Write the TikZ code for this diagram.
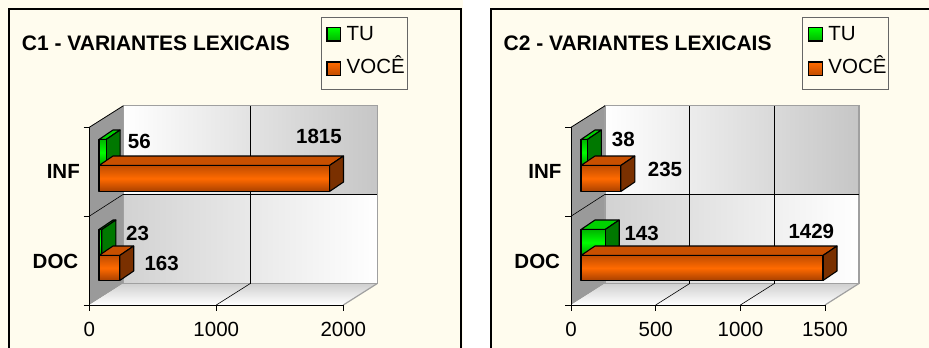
\documentclass[tikz,border=0pt]{standalone}
\usepackage{fontspec}
\setmainfont{Liberation Sans}
\definecolor{cream}{HTML}{FFFCEE}
\definecolor{sidegray}{HTML}{9A9A9A}
\definecolor{wallline}{HTML}{A0A0A0}
\definecolor{wallg}{HTML}{C6C6C6}
\definecolor{wallh}{HTML}{D2D2D2}
\definecolor{floorg}{HTML}{D0D0D0}
\definecolor{gA}{HTML}{00B400}
\definecolor{gB}{HTML}{009A00}
\definecolor{gC}{HTML}{00FF00}
\definecolor{gtop}{HTML}{00D200}
\definecolor{gside}{HTML}{007800}
\definecolor{oA}{HTML}{C04C00}
\definecolor{oB}{HTML}{A84000}
\definecolor{oC}{HTML}{FF6A00}
\definecolor{otop}{HTML}{C85000}
\definecolor{oside}{HTML}{7A3000}
\definecolor{legline}{HTML}{666666}
\tikzset{
  barline/.style={draw=black, line width=1.1pt, line join=round},
  gfront/.style={top color=gA, bottom color=gB, middle color=gC},
  ofront/.style={top color=oA, bottom color=oB, middle color=oC},
  panelborder/.style={draw=black, line width=2pt},
  wallstroke/.style={draw=wallline, line width=1.2pt},
  gridline/.style={draw=black, line width=0.6pt},
  axisline/.style={draw=black, line width=0.8pt},
  lbl/.style={inner sep=0pt, font=\fontsize{20.5}{24}\selectfont\bfseries},
  ticklbl/.style={inner sep=0pt, font=\fontsize{20.5}{24}\selectfont},
  titletext/.style={inner sep=0pt, font=\fontsize{21}{24}\selectfont\bfseries},
  legtext/.style={inner sep=0pt, font=\fontsize{20.5}{24}\selectfont},
  legsq/.style={draw=black, line width=1.1pt},
}
\def\ddx{14}
\def\ddy{9.5}
% x, y(top), width, height, kind (g/o)
\newcommand\bbar[5]{%
  \filldraw[barline,fill=#5top] (#1,#2) -- ++(\ddx,-\ddy) -- ++(#3,0) -- ++(-\ddx,\ddy) -- cycle;
  \filldraw[barline,fill=#5side] (#1+#3,#2) -- ++(\ddx,-\ddy) -- ++(0,#4) -- ++(-\ddx,\ddy) -- cycle;
  \draw[barline,#5front] (#1,#2) rectangle ++(#3,#4);
}
% common frame of one chart: #1 prefix, #2 title id
\newcommand\chartframe[2]{%
  % back wall
  \shade[left color=white, right color=wallg] (123.3,105.8) rectangle (377.3,194.3);
  \shade[left color=wallh, right color=white] (123.3,194.3) rectangle (377.3,283.5);
  % side wall
  \fill[sidegray] (89.3,127.3) -- (123.3,105.8) -- (123.3,283.5) -- (89.3,305) -- cycle;
  % floor
  \shade[top color=floorg, bottom color=white] (89.3,305) -- (123.3,283.5) -- (377.3,283.5) -- (343.3,305) -- cycle;
  \draw[wallstroke] (123.3,105.8) rectangle (377.3,283.5);
  \draw[wallstroke] (377.3,283.5) -- (343.3,305);
  \draw[gridline] (123.3,194.3) -- (377.3,194.3);
  \draw[gridline] (89.3,216.2) -- (123.3,194.3);
  \draw[axisline] (89.3,127.3) -- (123.3,105.8);
  \draw[axisline] (89.3,127.3) -- (89.3,305) -- (343.3,305);
  \foreach \yy in {127.3,216.2,305} \draw[axisline] (83.5,\yy) -- (89.3,\yy);
  % title
  \node[titletext, anchor=base west] (#1title) at (21.7,50) {#2 - VARIANTES LEXICAIS};
  % legend
  \draw[draw=legline, line width=0.9pt] (321,17) rectangle (407,89);
  \draw[legsq, top color=gC, bottom color=gA] (327,27.5) rectangle (340.5,41);
  \draw[legsq, top color=oC, bottom color=oA] (327,62) rectangle (340.5,75.5);
  \node[legtext, anchor=base west] (#1tu) at (346.5,40) {TU};
  \node[legtext, anchor=base west] (#1voce) at (346.5,73.3) {VOCÊ};
  % categories
  \node[lbl, anchor=base east] (#1inf) at (80,178.3) {INF};
  \node[lbl, anchor=base east] (#1doc) at (78.5,268.3) {DOC};
}
\begin{document}
\begin{tikzpicture}[x=1pt,y=-1pt]
\useasboundingbox (0,0) rectangle (929,348);
\fill[cream] (0,0) rectangle (929,348);
\fill[white] (462.5,0) rectangle (489.5,348);
\draw[panelborder] (8.5,350) -- (8.5,8.5) -- (461,8.5) -- (461,350);
\draw[panelborder] (490.7,350) -- (490.7,8.5) -- (931,8.5);

% ---------- C1 ----------
\chartframe{a}{C1}
\draw[gridline] (250.3,105.8) -- (250.3,283.5);
\draw[gridline] (216.3,305) -- (250.3,283.5);
\foreach \xx in {89.3,216.3,343.3} \draw[axisline] (\xx,305) -- (\xx,310.5);
\node[ticklbl, anchor=base] (a0) at (89.3,336.7) {0};
\node[ticklbl, anchor=base] (a1000) at (216.3,336.7) {1000};
\node[ticklbl, anchor=base] (a2000) at (343.3,336.7) {2000};
\bbar{99}{139.5}{7.1}{26}{g}
\bbar{99}{165.5}{230.5}{26}{o}
\bbar{99}{229.5}{2.9}{26}{g}
\bbar{99}{255.5}{20.7}{25}{o}
\node[lbl, anchor=base west] (aN56) at (127.7,148.3) {56};
\node[lbl, anchor=base west] (aN1815) at (296,143.3) {1815};
\node[lbl, anchor=base west] (aN23) at (126,240) {23};
\node[lbl, anchor=base west] (aN163) at (144.3,270) {163};

% ---------- C2 ----------
\begin{scope}[xshift=481.7pt]
\chartframe{b}{C2}
\foreach \xx in {208,292.7} \draw[gridline] (\xx,105.8) -- (\xx,283.5);
\foreach \xx in {174,258.7} \draw[gridline] (\xx,305) -- (\xx+34,283.5);
\foreach \xx in {89.3,174,258.7,343.3} \draw[axisline] (\xx,305) -- (\xx,310.5);
\node[ticklbl, anchor=base] (b0) at (89.3,336.7) {0};
\node[ticklbl, anchor=base] (b500) at (174,336.7) {500};
\node[ticklbl, anchor=base] (b1000) at (258.7,336.7) {1000};
\node[ticklbl, anchor=base] (b1500) at (343.3,336.7) {1500};
\bbar{99.3}{139.5}{6.4}{26}{g}
\bbar{99.3}{165.5}{39.8}{26}{o}
\bbar{99.3}{229.5}{24.2}{26}{g}
\bbar{99.3}{255.5}{242}{25}{o}
\node[lbl, anchor=base west] (bN38) at (130,146.7) {38};
\node[lbl, anchor=base west] (bN235) at (166,176) {235};
\node[lbl, anchor=base west] (bN143) at (142.6,240) {143};
\node[lbl, anchor=base west] (bN1429) at (306.6,238.3) {1429};
\end{scope}
\end{tikzpicture}
\end{document}
